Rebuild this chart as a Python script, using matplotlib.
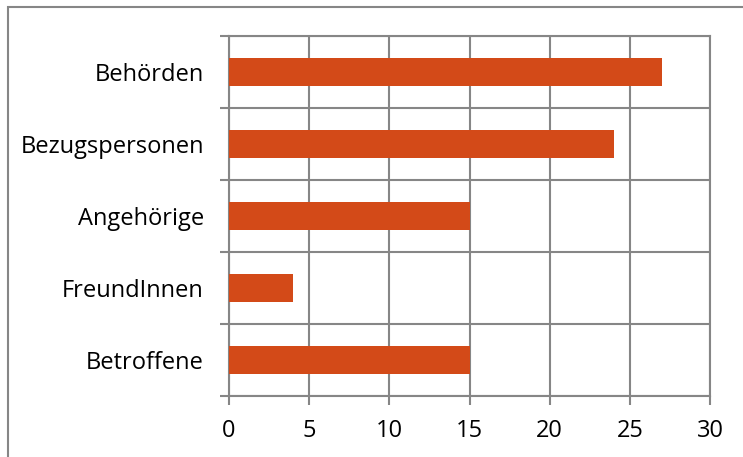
import matplotlib as mpl
mpl.use("Agg")
import matplotlib.pyplot as plt
from matplotlib.patches import Rectangle

categories = ["Betroffene", "FreundInnen", "Angehörige", "Bezugspersonen", "Behörden"]
values = [15, 4, 15, 24, 27]
xticks = [0, 5, 10, 15, 20, 25, 30]

bar_color = "#D34A18"
grid_color = "#868686"

plt.rcParams["font.family"] = ["Open Sans", "DejaVu Sans"]

fig = plt.figure(figsize=(7.43, 4.57), dpi=100)
ax = fig.add_axes([229 / 743, 1 - 396 / 457, (710 - 229) / 743, (396 - 36) / 457])

ypos = list(range(len(categories)))
ax.barh(ypos, values, height=0.39, color=bar_color, zorder=3)

ax.set_xlim(0, 30)
ax.set_ylim(-0.5, len(categories) - 0.5)
ax.set_xticks(xticks)
ax.set_yticks(ypos)
ax.set_yticklabels(categories)
# category separators as minor ticks / grid
ax.set_yticks([y - 0.5 for y in range(len(categories) + 1)], minor=True)
ax.tick_params(axis="y", which="major", length=0, pad=18, labelsize=17)
ax.tick_params(axis="y", which="minor", length=6.5, width=1.5, color=grid_color)
ax.tick_params(axis="x", length=6.5, width=1.5, color=grid_color, pad=10, labelsize=17)

ax.grid(axis="x", color=grid_color, linewidth=1.5, zorder=0)
ax.grid(axis="y", which="minor", color=grid_color, linewidth=1.5, zorder=0)
ax.set_axisbelow(True)
for s in ax.spines.values():
    s.set_color(grid_color)
    s.set_linewidth(1.5)

# outer chart border (only top and left visible in the crop)
fig.patches.append(Rectangle((8 / 743, -0.1), 1.2, 1 - 7 / 457 + 0.1,
                             transform=fig.transFigure, fill=False,
                             edgecolor=grid_color, linewidth=1.5))

fig.savefig("out.png", dpi=100)
